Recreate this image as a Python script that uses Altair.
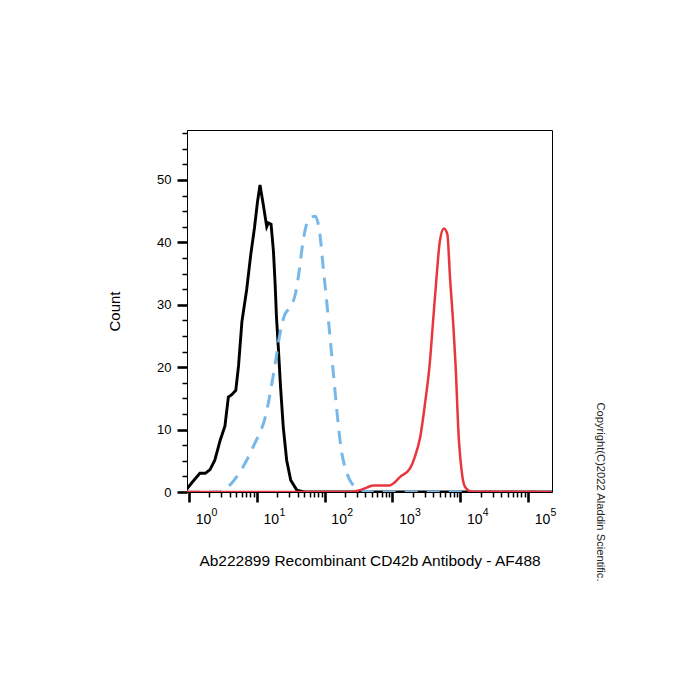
import json
import altair as alt
import pandas as pd

# ---- data (x given as log10 of fluorescence, y = count) ----
black_lx = [-0.03, 0.05, 0.16, 0.24, 0.31, 0.38, 0.46, 0.53, 0.58, 0.63, 0.69, 0.73,
            0.78, 0.85, 0.91, 0.965, 1.01, 1.047, 1.096, 1.146, 1.17, 1.21, 1.245,
            1.27, 1.29, 1.32, 1.35, 1.39, 1.44, 1.5, 1.59, 1.7, 5.354]
black_y = [0.5, 1.6, 3.0, 3.0, 3.6, 5.1, 8.3, 10.6, 15.2, 15.6, 16.3, 20.2,
           27.3, 32.4, 38.0, 42.3, 46.5, 49.2, 46.0, 42.5, 43.1, 42.9, 38.6,
           33.3, 28.0, 22.6, 16.8, 10.4, 5.1, 1.9, 0.3, 0.0, 0.0]

blue_lx = [-0.03, 0.45, 0.53, 0.62, 0.70, 0.79, 0.875, 0.97, 1.05, 1.12, 1.195, 1.27,
           1.34, 1.415, 1.47, 1.52, 1.57, 1.61, 1.69, 1.76, 1.86, 1.93, 1.98, 2.03,
           2.08, 2.13, 2.18, 2.24, 2.33, 2.45, 2.55, 2.7, 5.354]
blue_y = [0.0, 0.0, 0.6, 1.3, 2.4, 3.9, 5.6, 7.8, 9.6, 11.8, 15.7, 20.5,
          25.3, 28.5, 29.3, 30.1, 31.8, 34.3, 40.7, 43.6, 44.2, 41.3, 35.9, 30.6,
          24.8, 18.9, 13.1, 7.2, 3.0, 0.8, 0.3, 0.0, 0.0]

red_lx = [-0.03, 2.37, 2.52, 2.62, 2.72, 2.96, 3.04, 3.11, 3.26, 3.33, 3.41, 3.48,
          3.555, 3.60, 3.65, 3.70, 3.76, 3.81, 3.85, 3.90, 3.94, 3.97, 4.02, 4.07,
          4.17, 5.354]
red_y = [0.0, 0.0, 0.3, 0.7, 1.06, 1.06, 1.6, 2.4, 3.8, 5.6, 8.8, 14.1,
         21.1, 27.4, 34.3, 40.2, 42.2, 41.3, 34.3, 26.4, 18.4, 10.4, 3.5, 0.85,
         0.05, 0.0]

x_major = [1, 10, 100, 1000, 10000, 100000]
x_major_base = "10"
x_major_exps = ["0", "1", "2", "3", "4", "5"]
x_ticks = [m * 10 ** k for k in range(5) for m in range(1, 10)] + [100000]
y_ticks = [i * 2.5 for i in range(24)]

x_title = "Ab222899 Recombinant CD42b Antibody - AF488"
y_title = "Count"
copyright_text = "Copyright(C)2022 Aladdin Scientific."

FONT = "Liberation Sans"

def frame(lx, y):
    return pd.DataFrame({"lx": lx, "count": y})

is_pow = "abs(log(datum.value)/LN10 - round(log(datum.value)/LN10)) < 0.001"
exp_arr = json.dumps(x_major_exps)
x_label_expr = f"({is_pow}) ? '{x_major_base}' : ''"
x_exp_expr = f"({is_pow}) ? {exp_arr}[round(log(datum.value)/LN10)] : ''"

x_scale = alt.Scale(type="log", domain=[10 ** -0.03, 10 ** 5.354], nice=False)
y_scale = alt.Scale(domain=[0, 58], nice=False)

x_axis = alt.Axis(
    values=x_ticks, labelExpr=x_label_expr, labelOverlap=False, labelFlush=False,
    orient="bottom",
    tickSize={"condition": {"test": is_pow, "value": 10}, "value": 5},
    tickWidth={"condition": {"test": is_pow, "value": 2.6}, "value": 1.5},
    tickColor="black", domainColor="black", domainWidth=1,
    labelFont=FONT, labelFontSize=14, labelColor="black", labelOffset=14, labelPadding=10,
    title=x_title, titleFont=FONT, titleFontSize=15.5, titleFontWeight="normal",
    titleColor="black", titlePadding=27, grid=False,
)
x_exp_axis = alt.Axis(
    values=x_major, labelExpr=x_exp_expr, labelOverlap=False, labelFlush=False,
    orient="bottom", ticks=False, tickSize=0, domain=False,
    labelFont=FONT, labelFontSize=10.5, labelColor="black", labelOffset=25,
    labelPadding=15, title=None, grid=False,
)
y_major = "datum.value % 10 == 0"
y_axis = alt.Axis(
    values=y_ticks, labelExpr=f"({y_major}) ? datum.label : ''", labelOverlap=False,
    labelFlush=False,
    tickSize={"condition": {"test": y_major, "value": 10}, "value": 5},
    tickWidth={"condition": {"test": y_major, "value": 2.6}, "value": 1.5},
    tickColor="black", domainColor="black", domainWidth=1,
    labelFont=FONT, labelFontSize=13, labelColor="black", labelPadding=6,
    title=y_title, titleFont=FONT, titleFontSize=15, titleFontWeight="normal",
    titleColor="black", titlePadding=34, grid=False,
)

def layer(df, color, width, dash=None, interp="linear", xaxis=x_axis, opacity=1):
    kw = dict(color=color, strokeWidth=width, interpolate=interp, clip=True, opacity=opacity)
    if dash:
        kw["strokeDash"] = dash
    return alt.Chart(df).transform_calculate(x="pow(10, datum.lx)").mark_line(**kw).encode(
        x=alt.X("x:Q", scale=x_scale, axis=xaxis),
        y=alt.Y("count:Q", scale=y_scale, axis=y_axis),
    )

curves = alt.layer(
    layer(frame(black_lx, black_y), "#000000", 2.9),
    layer(frame(blue_lx, blue_y), "#78b8e8", 3, dash=[13, 9], interp="monotone"),
    layer(frame(red_lx, red_y), "#e8363c", 2.5, interp="monotone"),
)
exponents = layer(frame(red_lx, red_y), "#e8363c", 0, xaxis=x_exp_axis, opacity=0)

chart = alt.layer(curves, exponents).resolve_axis(x="independent").properties(
    width=365, height=362,
    background="white",
    autosize=alt.AutoSizeParams(type="none"),
    padding={"left": 187, "top": 130, "right": 148, "bottom": 208},
    title=alt.TitleParams(
        text=copyright_text, orient="right", anchor="end", align="center", frame="group",
        font=FONT, fontSize=11.2, fontWeight="normal", color="#222222", offset=39,
    ),
).configure_view(stroke="black", strokeWidth=1)

chart.save("out.html", embed_options={"renderer": "svg", "actions": False})
